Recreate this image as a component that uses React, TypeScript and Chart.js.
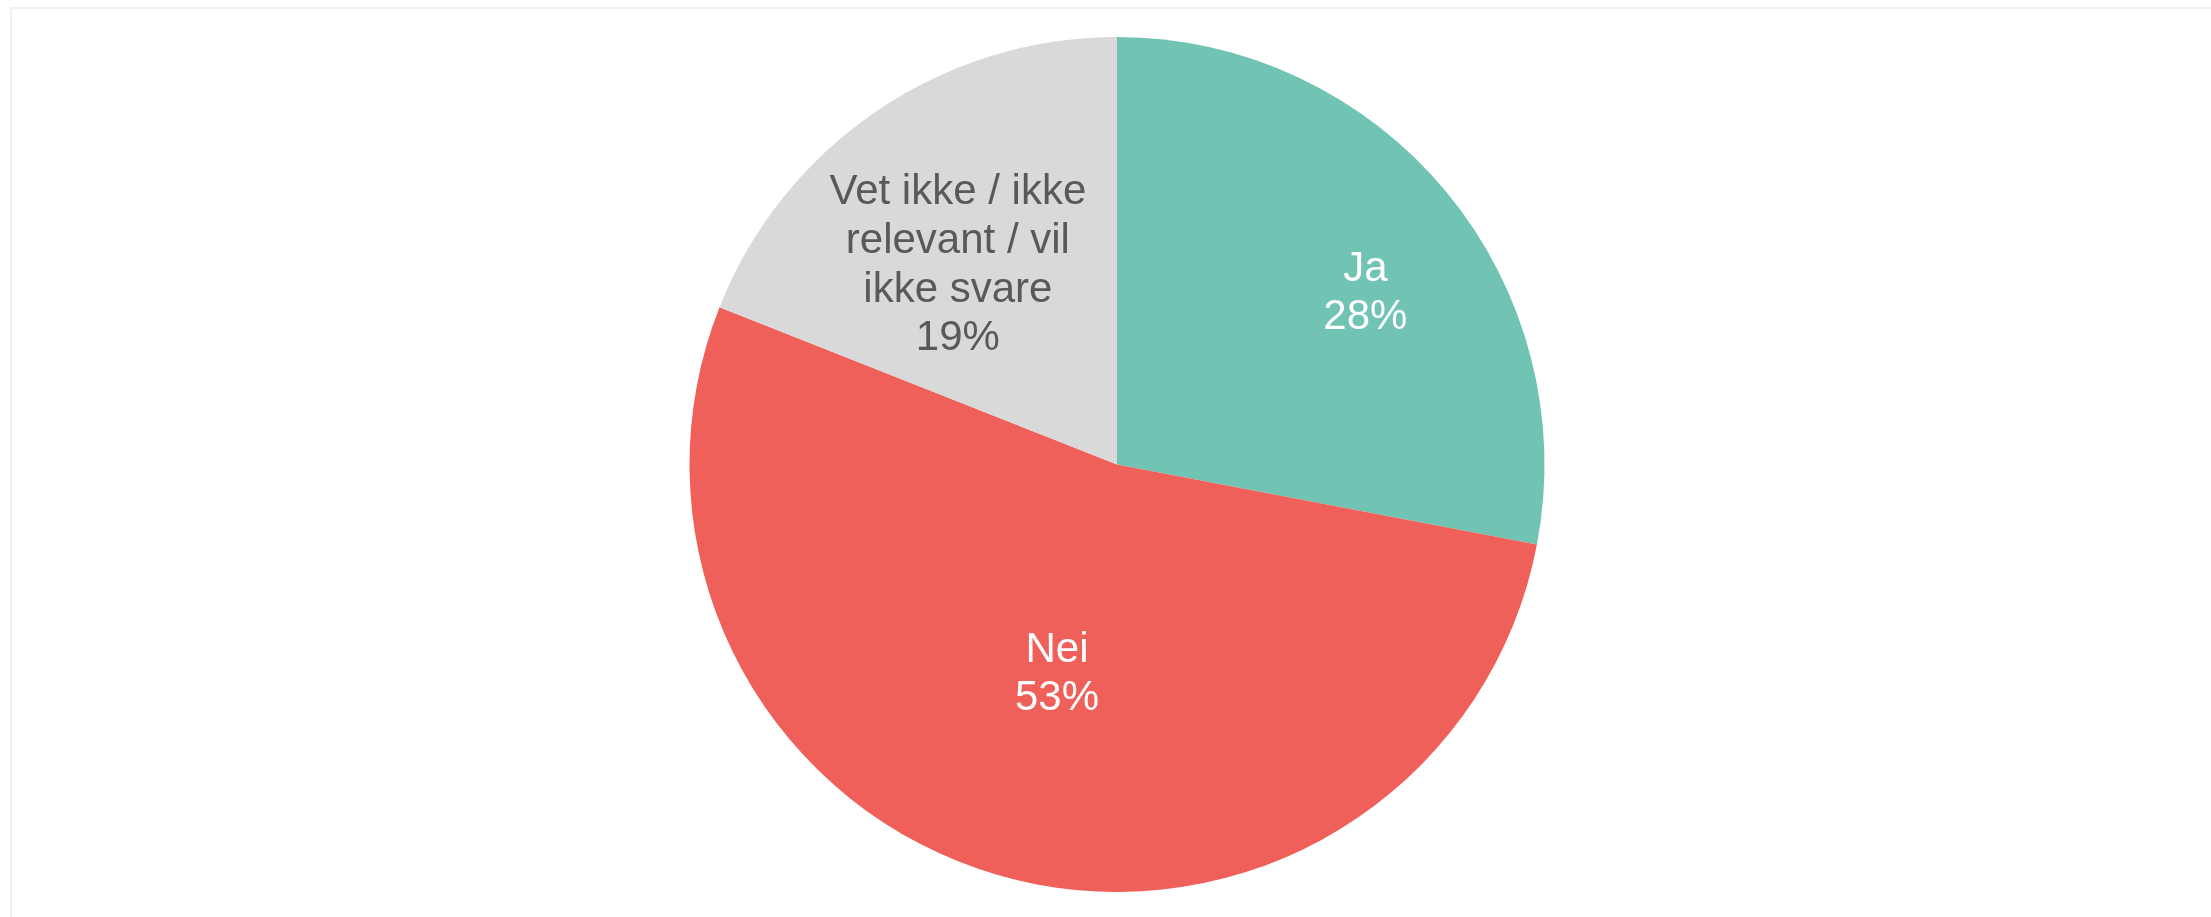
import React, { useEffect, useRef } from "react";
import { Chart, registerables } from "chart.js";

Chart.register(...registerables);

const categories: string[][] = [["Ja"], ["Nei"], ["Vet ikke / ikke", "relevant / vil", "ikke svare"]];
const values: number[] = [28, 53, 19];
const colors: string[] = ["#71c3b4", "#f0605a", "#d9d9d9"];
const labelColors: string[] = ["#ffffff", "#ffffff", "#595959"];
// label placement relative to slice: fraction of radius, angle offset in degrees
const labelRadius: number[] = [0.71, 0.503, 0.602];
const labelAngleOffset: number[] = [4.5, 0, -4.0];

const FONT_SIZE = 42;
const LINE_H = 48.6;

const labelPlugin = {
  id: "sliceLabels",
  afterDatasetsDraw(chart: any) {
    const ctx = chart.ctx as CanvasRenderingContext2D;
    const meta = chart.getDatasetMeta(0);
    ctx.save();
    ctx.font = `${FONT_SIZE}px "Liberation Sans", Arial, sans-serif`;
    ctx.textAlign = "center";
    ctx.textBaseline = "alphabetic";
    meta.data.forEach((arc: any, i: number) => {
      const p = arc.getProps(["x", "y", "startAngle", "endAngle", "outerRadius"], true);
      const mid = (p.startAngle + p.endAngle) / 2 + (labelAngleOffset[i] * Math.PI) / 180;
      const r = p.outerRadius * labelRadius[i];
      const cx = p.x + Math.cos(mid) * r;
      const cy = p.y + Math.sin(mid) * r;
      const lines = [...categories[i], `${values[i]}%`];
      const capH = FONT_SIZE * 0.716;
      const total = capH + (lines.length - 1) * LINE_H;
      const firstBase = cy - total / 2 + capH;
      ctx.fillStyle = labelColors[i];
      lines.forEach((ln, j) => ctx.fillText(ln, cx, firstBase + j * LINE_H));
    });
    ctx.restore();
  },
};

export default function App() {
  const ref = useRef<HTMLCanvasElement>(null);
  useEffect(() => {
    if (!ref.current) return;
    const chart = new Chart(ref.current, {
      type: "pie",
      data: {
        labels: categories.map((c) => c.join(" ")),
        datasets: [
          {
            data: values,
            backgroundColor: colors,
            borderWidth: 0,
          },
        ],
      },
      options: {
        responsive: false,
        animation: false,
        devicePixelRatio: 1,
        layout: { padding: { top: 37, bottom: 25, left: 23, right: 0 } },
        plugins: { legend: { display: false }, tooltip: { enabled: false } },
      },
      plugins: [labelPlugin],
    });
    return () => chart.destroy();
  }, []);
  return (
    <div style={{ position: "fixed", left: 0, top: 0, width: 2211, height: 917, overflow: "hidden", background: "#fff" }}>
      <div
        style={{
          position: "absolute",
          left: 10,
          top: 7,
          width: 2300,
          height: 1000,
          border: "2px solid #f0f0f0",
          boxSizing: "border-box",
        }}
      />
      <canvas ref={ref} width={2211} height={917} style={{ position: "absolute", left: 0, top: 0 }} />
    </div>
  );
}
